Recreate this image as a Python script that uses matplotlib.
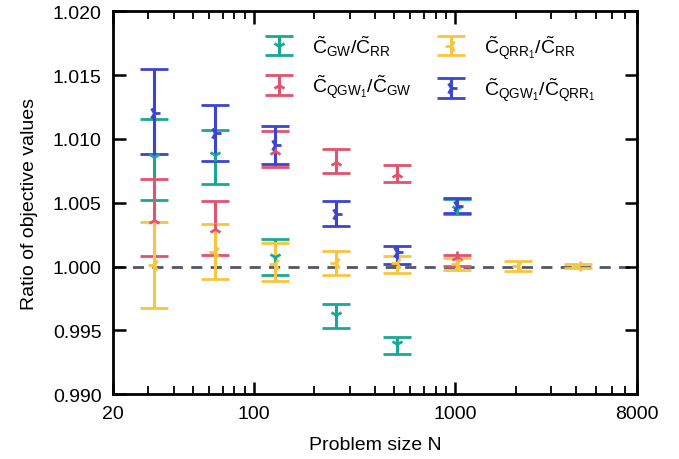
import numpy as np
import matplotlib
matplotlib.use("Agg")
import matplotlib.pyplot as plt

plt.rcParams['font.family'] = ['Liberation Sans', 'DejaVu Sans']
plt.rcParams['mathtext.fontset'] = 'custom'
plt.rcParams['mathtext.rm'] = 'Liberation Sans'
plt.rcParams['mathtext.it'] = 'Liberation Sans:italic'
plt.rcParams['mathtext.default'] = 'regular'

# problem sizes
N_small = [32, 64, 128, 256, 512, 1024]
N_all = [32, 64, 128, 256, 512, 1024, 2048, 4096]

# C_GW / C_RR  (mean, lower, upper)
gw_rr = [1.00855, 1.00873, 1.00073, 0.99617, 0.99396, 1.00451]
gw_rr_lo = [1.00519, 1.00648, 0.99930, 0.99519, 0.99318, 1.00415]
gw_rr_hi = [1.01154, 1.01070, 1.00214, 0.99709, 0.99451, 1.00527]

# C_QGW1 / C_GW
qgw_gw = [1.00367, 1.00295, 1.00906, 1.00820, 1.00724, 1.00073]
qgw_gw_lo = [1.00081, 1.00094, 1.00777, 1.00732, 1.00664, 1.00008]
qgw_gw_hi = [1.00688, 1.00511, 1.01060, 1.00925, 1.00800, 1.00091]

# C_QRR1 / C_RR
qrr_rr = [1.00013, 1.00112, 1.00021, 1.00029, 1.00029, 1.00021, 1.00005, 1.00002]
qrr_rr_lo = [0.99672, 0.99901, 0.99888, 0.99930, 0.99951, 0.99977, 0.99966, 0.99985]
qrr_rr_hi = [1.00349, 1.00334, 1.00183, 1.00125, 1.00086, 1.00065, 1.00045, 1.00018]

# C_QGW1 / C_QRR1
qgw_qrr = [1.01206, 1.01050, 1.00953, 1.00412, 1.00112, 1.00472]
qgw_qrr_lo = [1.00883, 1.00828, 1.00805, 1.00316, 1.00021, 1.00420]
qgw_qrr_hi = [1.01545, 1.01266, 1.01102, 1.00511, 1.00164, 1.00534]

series = [
    (N_small, gw_rr, gw_rr_lo, gw_rr_hi, '#1aa896', '1',
     r'$\tilde{C}_{GW}/\tilde{C}_{RR}$'),
    (N_small, qgw_gw, qgw_gw_lo, qgw_gw_hi, '#e0546f', '2',
     r'$\tilde{C}_{QGW_1}/\tilde{C}_{GW}$'),
    (N_all, qrr_rr, qrr_rr_lo, qrr_rr_hi, '#f7c641', '3',
     r'$\tilde{C}_{QRR_1}/\tilde{C}_{RR}$'),
    (N_small, qgw_qrr, qgw_qrr_lo, qgw_qrr_hi, '#3d44d0', '4',
     r'$\tilde{C}_{QGW_1}/\tilde{C}_{QRR_1}$'),
]

fig = plt.figure(figsize=(6.79, 4.6), dpi=100)
ax = fig.add_axes([0.1664, 0.141, 0.7716, 0.832])

ax.axhline(1.0, color='#555566', ls=(0, (4, 3)), lw=2, zorder=1)

for x, y, lo, hi, c, m, lab in series:
    y = np.array(y)
    err = [y - np.array(lo), np.array(hi) - y]
    ax.errorbar(x, y, yerr=err, fmt=m, color=c, ms=9, mew=2,
                elinewidth=2.2, capsize=10, capthick=2.5, label=lab, zorder=2)

ax.set_xscale('log')
ax.set_xlim(20, 8000)
ax.set_ylim(0.990, 1.020)
ax.set_xticks([20, 100, 1000, 8000])
ax.set_xticklabels(['20', '100', '1000', '8000'])
ax.set_yticks([0.990, 0.995, 1.000, 1.005, 1.010, 1.015, 1.020])
ax.set_yticklabels(['%.3f' % v for v in [0.990, 0.995, 1.000, 1.005, 1.010, 1.015, 1.020]])

ax.tick_params(which='both', direction='in', top=True, right=True, labelsize=14, pad=8)
ax.tick_params(which='major', length=9, width=1.8)
ax.tick_params(which='minor', length=5.5, width=1.3)
for s in ax.spines.values():
    s.set_linewidth(2)

ax.set_xlabel('Problem size N', fontsize=14, labelpad=10)
ax.set_ylabel('Ratio of objective values', fontsize=14, labelpad=11)

ax.legend(ncol=2, loc='upper right', frameon=False, fontsize=14,
          bbox_to_anchor=(0.955, 0.99), columnspacing=1.0, handletextpad=0.7,
          labelspacing=0.75)

fig.savefig('out.png', dpi=100)
